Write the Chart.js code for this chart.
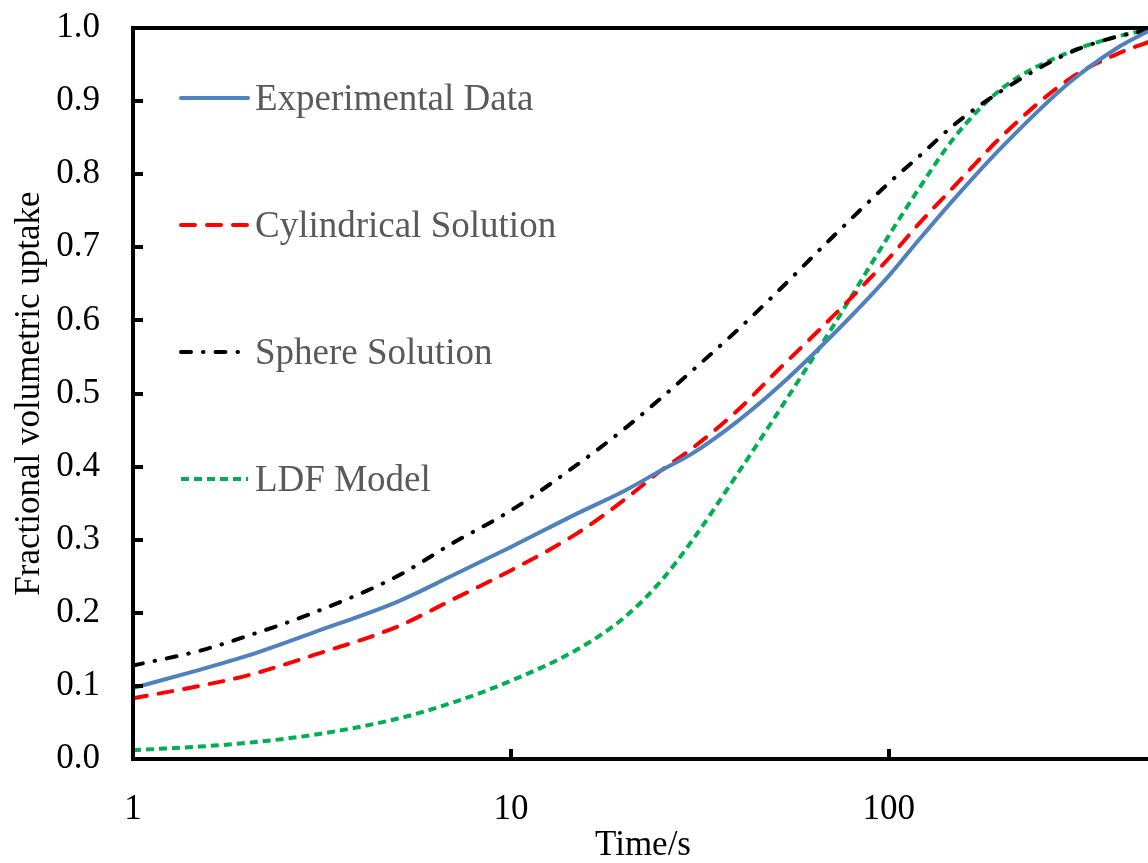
<!DOCTYPE html>
<html>
<head>
<meta charset="utf-8">
<title>Fractional volumetric uptake</title>
<script src="https://cdn.jsdelivr.net/npm/chart.js@4.4.1/dist/chart.umd.min.js"></script>
<style>
  html, body { margin: 0; padding: 0; background: #fff; overflow: hidden; }
  #wrap { width: 1160px; height: 863px; }
</style>
</head>
<body>
<div id="wrap"><canvas id="uptake"></canvas></div>
<script>
// sampling times (s) shared by every curve
const times = [1, 1.5, 2, 3, 5, 7, 10, 15, 20, 25, 30, 40, 50, 70, 100, 120, 150, 200, 300, 400, 500];

const experimental = [0.097, 0.122, 0.141, 0.173, 0.215, 0.251, 0.290, 0.336, 0.367, 0.395, 0.417, 0.463, 0.505, 0.577, 0.661, 0.710, 0.768, 0.838, 0.925, 0.972, 0.999];
const cylindrical  = [0.083, 0.100, 0.114, 0.142, 0.181, 0.218, 0.258, 0.309, 0.355, 0.395, 0.424, 0.478, 0.528, 0.602, 0.685, 0.732, 0.785, 0.853, 0.930, 0.964, 0.983];
const sphere       = [0.128, 0.148, 0.168, 0.200, 0.250, 0.295, 0.340, 0.403, 0.452, 0.494, 0.530, 0.588, 0.636, 0.711, 0.788, 0.824, 0.869, 0.915, 0.966, 0.988, 0.998];
const ldf          = [0.012, 0.017, 0.022, 0.033, 0.055, 0.077, 0.107, 0.150, 0.194, 0.244, 0.297, 0.392, 0.468, 0.586, 0.716, 0.780, 0.852, 0.918, 0.967, 0.988, 0.999];

const seriesNames = ['Experimental Data', 'Cylindrical Solution', 'Sphere Solution', 'LDF Model'];
const xTickValues = [1, 10, 100];

const FONT = '"Liberation Serif", "Times New Roman", serif';
const FONT_SIZE = 35;
const LEGEND_SIZE = 37;

function toPoints(values) {
  return times.map((t, i) => ({ x: t, y: values[i] }));
}

// frame (top, left, bottom) plus inward tick marks
const framePlugin = {
  id: 'frame',
  afterDatasetsDraw(chart) {
    const { ctx, chartArea: a, scales } = chart;
    ctx.save();
    ctx.strokeStyle = '#000';
    ctx.lineWidth = 4;
    ctx.strokeRect(a.left, a.top, a.right - a.left, a.bottom - a.top);
    ctx.beginPath();
    scales.y.ticks.forEach(t => {
      const py = Math.round(scales.y.getPixelForValue(t.value));
      ctx.moveTo(a.left, py);
      ctx.lineTo(a.left + 10, py);
    });
    scales.x.ticks.forEach(t => {
      const px = Math.round(scales.x.getPixelForValue(t.value));
      ctx.moveTo(px, a.bottom);
      ctx.lineTo(px, a.bottom - 10);
    });
    ctx.stroke();
    ctx.restore();
  }
};

// legend drawn inside the plot, one row per dataset
const insideLegend = {
  id: 'insideLegend',
  afterDraw(chart) {
    const { ctx } = chart;
    ctx.save();
    ctx.font = LEGEND_SIZE + 'px ' + FONT;
    ctx.textBaseline = 'middle';
    chart.data.datasets.forEach((ds, i) => {
      const y = 98 + i * 127;
      ctx.strokeStyle = ds.borderColor;
      ctx.lineWidth = ds.borderWidth;
      ctx.lineCap = ds.borderCapStyle || 'butt';
      ctx.setLineDash(ds.borderDash || []);
      ctx.beginPath();
      ctx.moveTo(181, y);
      ctx.lineTo(248, y);
      ctx.stroke();
      ctx.setLineDash([]);
      ctx.fillStyle = '#595959';
      ctx.fillText(ds.label, 255, y + 2);
    });
    ctx.restore();
  }
};

// keep tick-label padding from pushing the plot area inwards
function noEdgePadding(scale) {
  scale.paddingTop = 0;
  scale.paddingBottom = 0;
  scale.paddingLeft = 0;
  scale.paddingRight = 0;
}

const common = {
  fill: false,
  pointRadius: 0,
  borderWidth: 4,
  cubicInterpolationMode: 'monotone'
};

new Chart(document.getElementById('uptake'), {
  type: 'line',
  data: {
    datasets: [
      Object.assign({}, common, {
        label: seriesNames[0],
        data: toPoints(experimental),
        borderColor: '#4F81BD',
        borderCapStyle: 'round'
      }),
      Object.assign({}, common, {
        label: seriesNames[1],
        data: toPoints(cylindrical),
        borderColor: '#FF0000',
        borderDash: [14, 12],
        borderCapStyle: 'round'
      }),
      Object.assign({}, common, {
        label: seriesNames[2],
        data: toPoints(sphere),
        borderColor: '#000000',
        borderDash: [10, 12, 0.5, 12],
        borderCapStyle: 'round'
      }),
      Object.assign({}, common, {
        label: seriesNames[3],
        data: toPoints(ldf),
        borderColor: '#00B050',
        borderDash: [8, 5],
        borderCapStyle: 'butt'
      })
    ]
  },
  options: {
    responsive: true,
    maintainAspectRatio: false,
    animation: false,
    devicePixelRatio: 1,
    layout: { padding: { top: 28, right: 7, left: 0, bottom: 0 } },
    plugins: {
      legend: { display: false },
      tooltip: { enabled: false }
    },
    scales: {
      x: {
        type: 'logarithmic',
        min: 1,
        max: 500,
        afterBuildTicks(scale) {
          scale.ticks = xTickValues.map(v => ({ value: v }));
        },
        afterFit(scale) {
          scale.height = 104;
          noEdgePadding(scale);
        },
        border: { display: false },
        grid: { display: false, drawTicks: false },
        ticks: {
          color: '#000',
          padding: 30,
          maxRotation: 0,
          autoSkip: false,
          font: { family: FONT, size: FONT_SIZE },
          callback: v => String(v)
        },
        title: {
          display: true,
          text: 'Time/s',
          color: '#000',
          padding: 0,
          font: { family: FONT, size: FONT_SIZE, lineHeight: 1 }
        }
      },
      y: {
        min: 0,
        max: 1,
        afterFit(scale) {
          scale.width = 133;
          noEdgePadding(scale);
        },
        border: { display: false },
        grid: { display: false, drawTicks: false },
        ticks: {
          stepSize: 0.1,
          color: '#000',
          padding: 33,
          font: { family: FONT, size: FONT_SIZE },
          callback: v => v.toFixed(1)
        },
        title: {
          display: true,
          text: 'Fractional volumetric uptake',
          color: '#000',
          padding: { top: 12, bottom: 0 },
          font: { family: FONT, size: FONT_SIZE, lineHeight: 1 }
        }
      }
    }
  },
  plugins: [framePlugin, insideLegend]
});
</script>
</body>
</html>
